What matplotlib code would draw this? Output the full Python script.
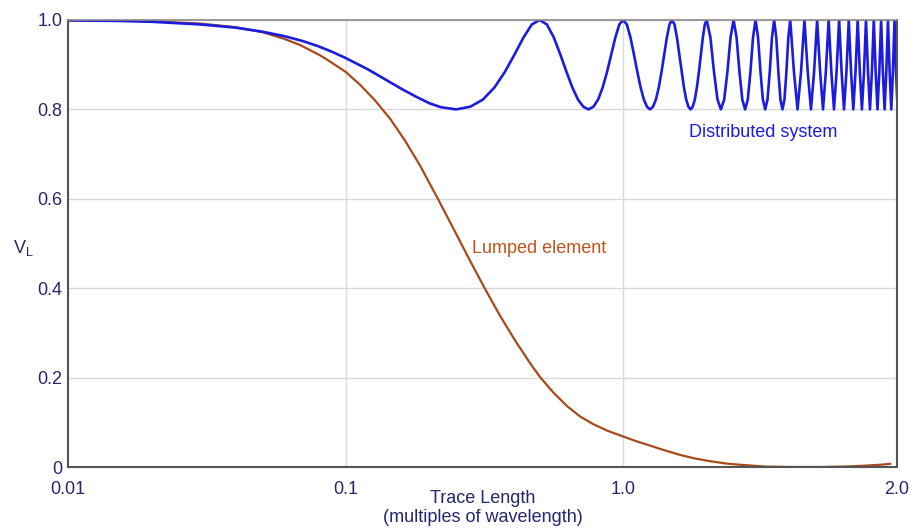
import matplotlib
matplotlib.use("Agg")
import matplotlib.pyplot as plt

plt.rcParams['font.family'] = ['Liberation Sans', 'DejaVu Sans']

# lumped element response
lumped_x = [0.01, 0.015, 0.02, 0.03, 0.04, 0.05, 0.06, 0.0686, 0.0809, 0.0879,
            0.1, 0.1128, 0.1277, 0.1447, 0.1638, 0.1856, 0.2154, 0.2481, 0.281, 0.3183,
            0.3604, 0.4081, 0.4623, 0.5022, 0.5616, 0.6284, 0.6998, 0.7795, 0.8793, 0.9917,
            1.1, 1.22, 1.399, 1.605, 1.817, 2.058, 2.331, 2.64, 3.249, 3.998,
            5.128, 6.31, 7.45, 8.44, 9.17]
lumped_v = [1.000, 0.999, 0.997, 0.992, 0.984, 0.973, 0.958, 0.944, 0.921, 0.907,
            0.884, 0.855, 0.820, 0.779, 0.730, 0.674, 0.599, 0.526, 0.461, 0.398,
            0.338, 0.283, 0.232, 0.201, 0.166, 0.136, 0.113, 0.096, 0.081, 0.069,
            0.059, 0.050, 0.038, 0.027, 0.019, 0.013, 0.008, 0.005, 0.001, 0.000,
            0.000, 0.001, 0.003, 0.005, 0.007]

# distributed system response
dist_x = [0.01, 0.015, 0.02, 0.03, 0.04, 0.05, 0.06, 0.07, 0.08, 0.09,
          0.1, 0.12, 0.14, 0.16, 0.18, 0.2, 0.22,
          0.25, 0.28125, 0.3125, 0.34375, 0.375, 0.40625, 0.4375, 0.46875,
          0.5, 0.53125, 0.5625, 0.59375, 0.625, 0.65625, 0.6875, 0.71875,
          0.75, 0.78125, 0.8125, 0.84375, 0.875, 0.90625, 0.9375, 0.96875,
          1.0, 1.03125, 1.0625, 1.09375, 1.125, 1.15625, 1.1875, 1.21875,
          1.25, 1.28125, 1.3125, 1.34375, 1.375, 1.40625, 1.4375, 1.46875,
          1.5, 1.53125, 1.5625, 1.59375, 1.625, 1.65625, 1.6875, 1.71875,
          1.75, 1.78125, 1.8125, 1.84375, 1.875, 1.90625, 1.9375, 1.96875,
          2.0, 2.0625, 2.125, 2.1875, 2.25, 2.3125, 2.375, 2.4375,
          2.5, 2.5625, 2.625, 2.6875, 2.75, 2.8125, 2.875, 2.9375,
          3.0, 3.0625, 3.125, 3.1875, 3.25, 3.3125, 3.375, 3.4375,
          3.5, 3.5625, 3.625, 3.6875, 3.75, 3.8125, 3.875, 3.9375,
          4.0, 4.125, 4.25, 4.375, 4.5, 4.625, 4.75, 4.875,
          5.0, 5.125, 5.25, 5.375, 5.5, 5.625, 5.75, 5.875,
          6.0, 6.125, 6.25, 6.375, 6.5, 6.625, 6.75, 6.875,
          7.0, 7.125, 7.25, 7.375, 7.5, 7.625, 7.75, 7.875,
          8.0, 8.125, 8.25, 8.375, 8.5, 8.625, 8.75, 8.875,
          9.0, 9.125, 9.25, 9.375, 9.5, 9.625, 9.75]
dist_v = [0.999, 0.998, 0.996, 0.990, 0.983, 0.974, 0.964, 0.953, 0.941, 0.928,
          0.915, 0.890, 0.866, 0.845, 0.828, 0.814, 0.805,
          0.800, 0.806, 0.822, 0.849, 0.884, 0.923, 0.961, 0.990,
          1.000, 0.990, 0.961, 0.923, 0.884, 0.849, 0.822, 0.806,
          0.800, 0.806, 0.822, 0.849, 0.884, 0.923, 0.961, 0.990,
          1.000, 0.990, 0.961, 0.923, 0.884, 0.849, 0.822, 0.806,
          0.800, 0.806, 0.822, 0.849, 0.884, 0.923, 0.961, 0.990,
          1.000, 0.990, 0.961, 0.923, 0.884, 0.849, 0.822, 0.806,
          0.800, 0.806, 0.822, 0.849, 0.884, 0.923, 0.961, 0.990,
          1.000, 0.961, 0.884, 0.822, 0.800, 0.822, 0.884, 0.961,
          1.000, 0.961, 0.884, 0.822, 0.800, 0.822, 0.884, 0.961,
          1.000, 0.961, 0.884, 0.822, 0.800, 0.822, 0.884, 0.961,
          1.000, 0.961, 0.884, 0.822, 0.800, 0.822, 0.884, 0.961,
          1.000, 0.884, 0.800, 0.884, 1.000, 0.884, 0.800, 0.884,
          1.000, 0.884, 0.800, 0.884, 1.000, 0.884, 0.800, 0.884,
          1.000, 0.884, 0.800, 0.884, 1.000, 0.884, 0.800, 0.884,
          1.000, 0.884, 0.800, 0.884, 1.000, 0.884, 0.800, 0.884,
          1.000, 0.884, 0.800, 0.884, 1.000, 0.884, 0.800, 0.884,
          1.000, 0.884, 0.800, 0.884, 1.000, 0.884, 0.800]

x_ticks = [0.01, 0.1, 1.0, 9.7]
x_tick_labels = ['0.01', '0.1', '1.0', '2.0']
y_ticks = [0, 0.2, 0.4, 0.6, 0.8, 1.0]
y_tick_labels = ['0', '0.2', '0.4', '0.6', '0.8', '1.0']

navy = '#26266e'
blue = '#1c1ce0'
brown = '#a84a1c'

fig = plt.figure(figsize=(9.22, 5.29), dpi=100)
ax = fig.add_axes([0.0738, 0.1172, 0.8991, 0.845])

ax.plot(lumped_x, lumped_v, color=brown, linewidth=1.6, solid_joinstyle='round')
ax.plot(dist_x, dist_v, color=blue, linewidth=1.9, solid_joinstyle='round')

ax.set_xscale('log')
ax.set_xlim(0.01, 9.7)
ax.set_ylim(0, 1.0)
ax.minorticks_off()
ax.set_xticks(x_ticks)
ax.set_xticklabels(x_tick_labels)
ax.set_yticks(y_ticks)
ax.set_yticklabels(y_tick_labels)
ax.tick_params(length=0, labelsize=13, labelcolor=navy)
ax.tick_params(axis='x', pad=10)
ax.tick_params(axis='y', pad=4)

ax.grid(True, color='#d9d9d9', linewidth=1.0)
ax.set_axisbelow(True)

for side in ['left', 'bottom', 'right']:
    ax.spines[side].set_color('#555555')
    ax.spines[side].set_linewidth(1.5)
ax.spines['top'].set_color('#8a8a8a')
ax.spines['top'].set_linewidth(1.2)

ax.set_xlabel('Trace Length\n(multiples of wavelength)', fontsize=13,
              color=navy, linespacing=1.1)
ax.xaxis.set_label_coords(0.5, -0.052)
ax.set_ylabel('V$_\\mathregular{L}$', fontsize=13, color=navy, rotation=0,
              va='center', ha='left')
ax.yaxis.set_label_coords(-0.067, 0.49)

ax.text(3.2, 0.749, 'Distributed system', color=blue, fontsize=13,
        ha='center', va='center')
ax.text(0.50, 0.488, 'Lumped element', color='#c0531f', fontsize=13,
        ha='center', va='center')

fig.savefig('out.png', dpi=100)
